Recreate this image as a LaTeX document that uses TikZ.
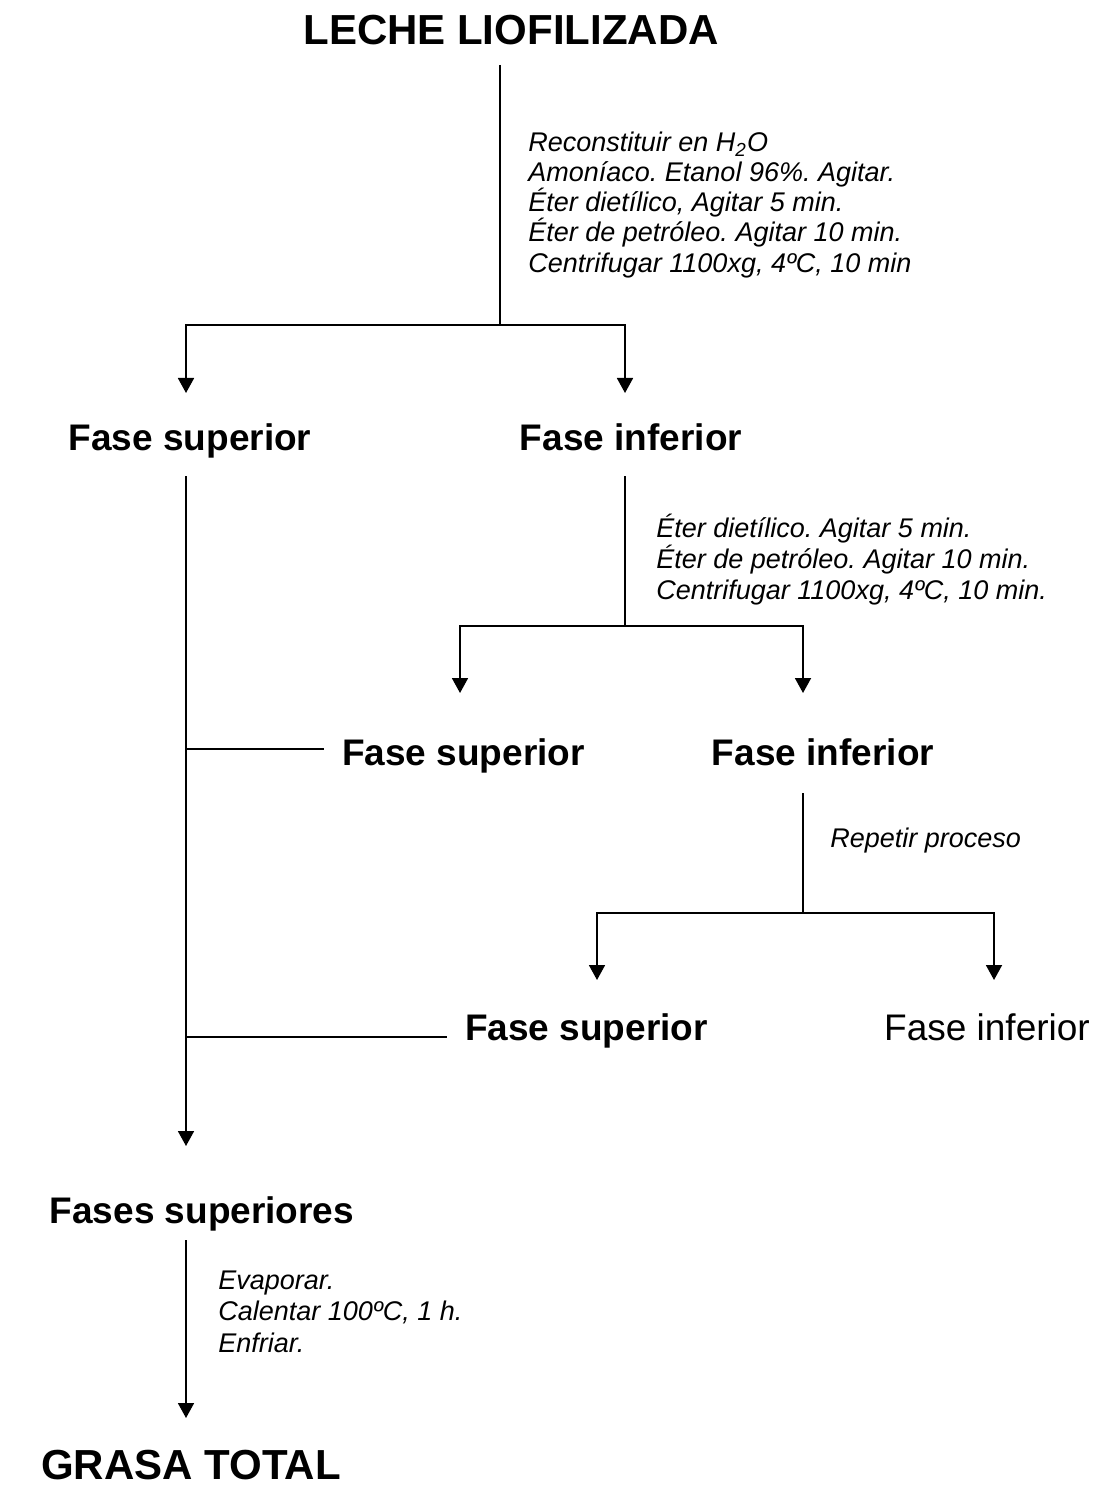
\documentclass[tikz,border=0pt]{standalone}
\usepackage{fontspec}
\setmainfont{Liberation Sans}
\usetikzlibrary{arrows.meta}
\frenchspacing
\begin{document}
\begin{tikzpicture}[x=0.5pt,y=-0.5pt]
\tikzset{
  big/.style={font=\fontsize{21}{25}\selectfont\bfseries, inner sep=0, anchor=base},
  phase/.style={font=\fontsize{18.5}{22}\selectfont\bfseries, inner sep=0, anchor=base},
  phasereg/.style={font=\fontsize{18.5}{22}\selectfont, inner sep=0, anchor=base},
  note/.style={font=\fontsize{13.5}{16}\selectfont\itshape, inner sep=0, anchor=base west},
  ln/.style={line width=0.9pt},
  arr/.style={ln, -{Triangle[width=8pt,length=7.5pt]}},
}
\useasboundingbox (0,0) rectangle (1098,1486);

% main texts
\node[big] (title) at (511,45) {LECHE LIOFILIZADA};
\node[phase] (fs1) at (190,451) {Fase superior};
\node[phase] (fi1) at (631,451) {Fase inferior};
\node[phase] (fs2) at (463.5,765) {Fase superior};
\node[phase] (fi2) at (823,765) {Fase inferior};
\node[phase] (fs3) at (586.5,1040) {Fase superior};
\node[phasereg] (fi3) at (987,1040) {Fase inferior};
\node[phase] (fss) at (202,1223) {Fases superiores};
\node[big] (gt) at (191,1479) {GRASA TOTAL};

% notes
\node[note] (n1a) at (528,152) {Reconstituir en H\textsubscript{2}O};
\node[note] (n1b) at (528,182) {Amoníaco. Etanol 96\%. Agitar.};
\node[note] (n1c) at (528,212) {Éter dietílico, Agitar 5 min.};
\node[note] (n1d) at (528,242) {Éter de petróleo. Agitar 10 min.};
\node[note] (n1e) at (528,273) {Centrifugar 1100xg, 4ºC, 10 min};

\node[note] (n2a) at (656,537) {Éter dietílico. Agitar 5 min.};
\node[note] (n2b) at (656,568) {Éter de petróleo. Agitar 10 min.};
\node[note] (n2c) at (656,599) {Centrifugar 1100xg, 4ºC, 10 min.};

\node[note] (n3) at (830,847) {Repetir proceso};

\node[note] (n4a) at (218,1289) {Evaporar.};
\node[note] (n4b) at (218,1320) {Calentar 100ºC, 1 h.};
\node[note] (n4c) at (218,1352) {Enfriar.};

% coordinates
\coordinate (t1) at (500,65);
\coordinate (j1) at (500,325);
\coordinate (a1l) at (186,393);
\coordinate (a1r) at (625,393);

\coordinate (t2) at (625,476);
\coordinate (j2) at (625,626);
\coordinate (a2l) at (460,693);
\coordinate (a2r) at (803,693);

\coordinate (t3) at (803,793);
\coordinate (j3) at (803,913);
\coordinate (a3l) at (597,980);
\coordinate (a3r) at (994,980);

\coordinate (ltop) at (186,476);
\coordinate (lend) at (186,1146);
\coordinate (b2) at (186,749);
\coordinate (b2e) at (324,749);
\coordinate (b3) at (186,1037);
\coordinate (b3e) at (447,1037);

\coordinate (t4) at (186,1240);
\coordinate (a4) at (186,1418);

% connectors
\draw[ln] (t1) -- (j1);
\draw[arr] (j1) -| (a1l);
\draw[arr] (j1) -| (a1r);

\draw[ln] (t2) -- (j2);
\draw[arr] (j2) -| (a2l);
\draw[arr] (j2) -| (a2r);

\draw[ln] (t3) -- (j3);
\draw[arr] (j3) -| (a3l);
\draw[arr] (j3) -| (a3r);

\draw[arr] (ltop) -- (lend);
\draw[ln] (b2) -- (b2e);
\draw[ln] (b3) -- (b3e);

\draw[arr] (t4) -- (a4);
\end{tikzpicture}
\end{document}
